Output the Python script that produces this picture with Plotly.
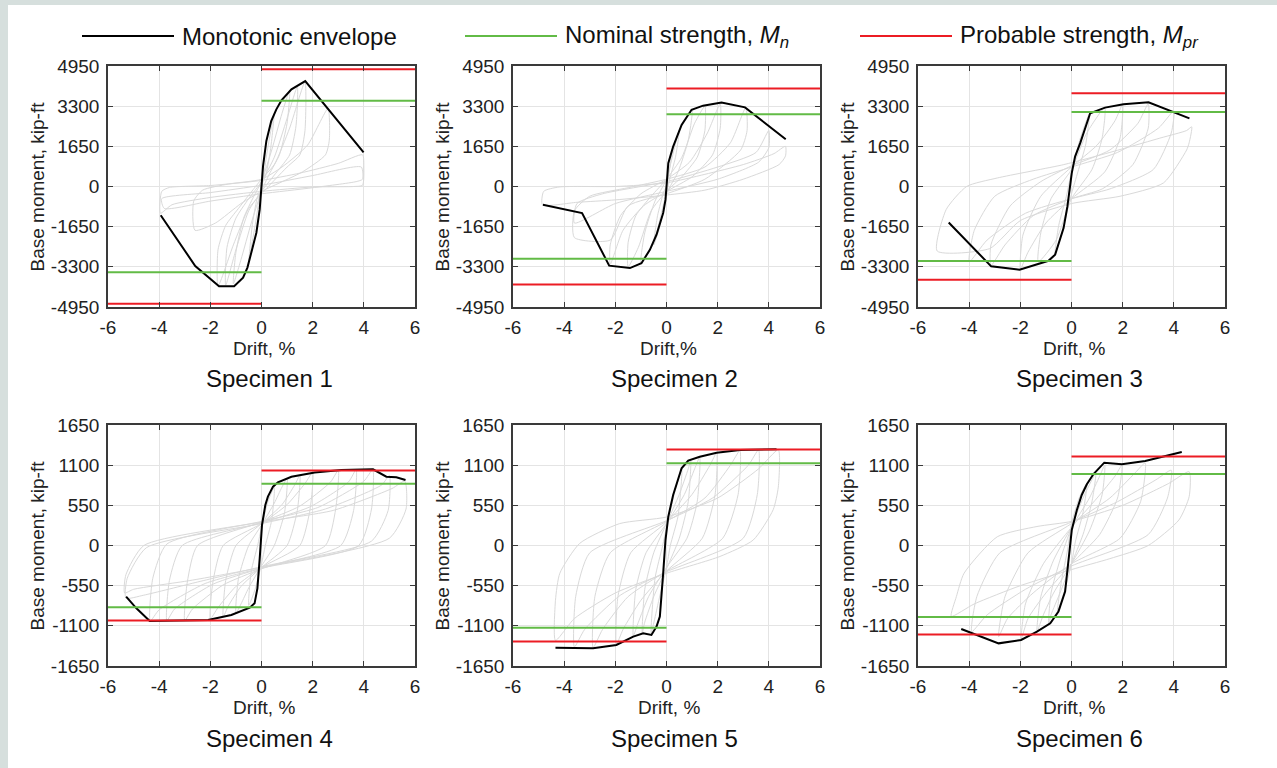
import plotly.graph_objects as go

W, H = 1277, 768

# ---------------- data ----------------
drift_ticks = [-6, -4, -2, 0, 2, 4, 6]
moment_ticks_top = [-4950, -3300, -1650, 0, 1650, 3300, 4950]
moment_ticks_bot = [-1650, -1100, -550, 0, 550, 1100, 1650]

specimen_names = ["Specimen 1", "Specimen 2", "Specimen 3",
                  "Specimen 4", "Specimen 5", "Specimen 6"]
drift_titles = ["Drift, %", "Drift,%", "Drift, %", "Drift, %", "Drift, %", "Drift, %"]
moment_title = "Base moment, kip-ft"
legend_names = ["Monotonic envelope", "Nominal strength, <i>M<sub>n</sub></i>",
                "Probable strength, <i>M<sub>pr</sub></i>"]

# Monotonic envelopes
env1_x = [-3.94, -2.59, -1.66, -1.07, -0.72, -0.55, -0.40, -0.20, -0.07, 0.0, 0.06, 0.19, 0.38, 0.58, 0.78, 1.17, 1.71, 3.99]
env1_y = [-1180, -3265, -4100, -4100, -3745, -3330, -2720, -1900, -940, -120, 840, 1870, 2690, 3170, 3540, 3990, 4330, 1400]
env2_x = [-4.83, -3.30, -2.24, -1.43, -0.98, -0.65, -0.39, -0.13, -0.04, 0.0, 0.07, 0.26, 0.59, 0.98, 1.43, 2.15, 3.07, 4.66]
env2_y = [-750, -1090, -3250, -3350, -3150, -2600, -1980, -1090, -550, 0, 960, 1640, 2530, 3150, 3320, 3450, 3250, 1940]
env3_x = [-4.80, -3.14, -2.03, -0.90, -0.64, -0.31, -0.16, -0.08, 0.01, 0.14, 0.34, 0.73, 1.31, 2.03, 3.01, 4.61]
env3_y = [-1480, -3280, -3420, -3050, -2800, -1710, -820, -140, 550, 1230, 1780, 3010, 3240, 3380, 3460, 2800]
env4_x = [-5.29, -4.89, -4.37, -3.07, -2.09, -1.18, -0.46, -0.27, -0.16, -0.07, 0.02, 0.15, 0.25, 0.45, 0.64, 1.17, 2.08, 3.12, 4.36, 4.88, 5.27, 5.63]
env4_y = [-700, -860, -1034, -1030, -1020, -952, -852, -792, -587, -176, 281, 555, 669, 806, 865, 942, 1001, 1034, 1043, 942, 933, 896]
env5_x = [-4.34, -2.87, -1.96, -1.30, -0.91, -0.59, -0.39, -0.26, -0.13, -0.04, 0.07, 0.26, 0.59, 0.85, 1.30, 1.96, 2.87, 4.30]
env5_y = [-1400, -1408, -1362, -1248, -1203, -1225, -1111, -974, -381, 75, 395, 692, 1057, 1162, 1216, 1271, 1308, 1317]
env6_x = [-4.31, -2.85, -1.97, -1.35, -0.83, -0.51, -0.25, -0.16, -0.08, 0.01, 0.21, 0.40, 0.60, 0.86, 1.28, 1.97, 2.88, 4.31]
env6_y = [-1143, -1340, -1294, -1180, -1066, -906, -632, -381, -84, 212, 486, 692, 838, 979, 1134, 1111, 1157, 1280]

# Nominal and probable strengths
nominal_strength = [3520, 2970, 3060, 845, 1125, 980]
probable_strength = [4820, 4030, 3830, 1027, 1315, 1220]

# Hysteresis loops (approximate)
loops1_x = [
    [0.0, 0.2, 0.4, 0.5, 0.35, 0.15, 0.0, -0.2, -0.4, -0.5, -0.35, -0.15, 0.0],
    [0.0, 0.4, 0.8, 1.1, 1.0, 0.7, 0.3, 0.0, -0.4, -0.8, -1.1, -1.0, -0.7, -0.3, 0.0],
    [0.0, 0.5, 1.0, 1.4, 1.35, 1.1, 0.6, 0.0, -0.5, -1.0, -1.4, -1.35, -1.0, -0.5, 0.0],
    [0.0, 0.5, 1.1, 1.7, 1.7, 1.5, 1.0, 0.0, -0.5, -1.1, -1.7, -1.7, -1.4, -0.9, 0.0],
    [0.0, 0.8, 1.8, 2.6, 2.65, 2.5, 1.6, 0.0, -0.8, -1.8, -2.6, -2.65, -2.3, -1.3, 0.0],
    [-3.95, -3.9, -3.6, -2.0, 0.0, 1.5, 3.0, 3.95, 4.0, 3.95, 3.6, 2.0, 0.0, -2.0, -3.5, -3.95],
    [-3.9, -2.0, 0.0, 2.0, 3.9, 3.95, 3.7, 2.0, 0.0, -2.0, -3.8, -3.9],
]
loops1_y = [
    [-100, 1300, 2500, 3000, 1500, 400, 100, -1300, -2500, -3100, -1500, -400, -100],
    [200, 1500, 3000, 3950, 2600, 1300, 500, -200, -1500, -3000, -4000, -2700, -1300, -400, 200],
    [200, 1200, 2800, 4100, 2500, 1300, 600, -200, -1000, -2600, -4050, -2500, -1300, -500, 200],
    [300, 900, 2400, 4300, 2300, 1300, 800, -300, -900, -2400, -4100, -2600, -1600, -900, 300],
    [300, 800, 1700, 3200, 1900, 1300, 600, -200, -700, -1500, -1800, -600, -150, 100, 300],
    [-1100, -200, -40, 40, 250, 550, 950, 1300, 800, 50, 0, -20, -200, -450, -750, -1100],
    [-500, -250, 50, 450, 800, 300, 200, -50, -300, -600, -900, -500],
]
loops2_x = [
    [0.0, 0.25, 0.5, 0.35, 0.1, 0.0, -0.25, -0.5, -0.35, -0.1, 0.0],
    [0.0, 0.5, 1.0, 0.85, 0.45, 0.0, -0.5, -1.0, -0.85, -0.45, 0.0],
    [0.0, 0.6, 1.1, 1.5, 1.5, 1.2, 0.6, 0.0, -0.6, -1.1, -1.5, -1.5, -1.2, -0.6, 0.0],
    [0.0, 0.9, 1.6, 2.1, 2.1, 1.8, 1.0, 0.0, -0.9, -1.7, -2.2, -2.2, -1.8, -1.0, 0.0],
    [0.0, 1.5, 2.5, 3.1, 3.15, 2.9, 1.5, 0.0, -1.5, -2.2, -3.6, -3.6, -3.0, -1.5, 0.0],
    [-3.6, -3.5, -2.5, 0.0, 2.0, 3.5, 4.0, 4.0, 3.6, 2.0, 0.0, -2.0, -3.6],
    [-4.85, -4.8, -4.2, -2.0, 0.0, 1.5, 3.0, 4.2, 4.65, 4.65, 4.4, 3.0, 1.5, 0.0, -2.0, -3.5, -4.85],
]
loops2_y = [
    [0, 1500, 2300, 1200, 200, -300, -1600, -2400, -1200, -200, 0],
    [300, 2300, 3150, 1900, 600, -300, -2300, -3150, -1900, -600, 300],
    [300, 1200, 2600, 3300, 2300, 1200, 400, -200, -1000, -2500, -3300, -2300, -1200, -400, 300],
    [300, 1000, 2200, 3400, 2400, 1300, 400, -200, -800, -1800, -3200, -2400, -1200, -300, 300],
    [300, 800, 1800, 3250, 2300, 1500, 300, -300, -800, -2200, -2100, -1000, -400, -50, 300],
    [-1500, -700, -300, 200, 800, 1400, 2300, 1600, 1000, 300, -200, -700, -1500],
    [-750, -200, -20, 0, 150, 500, 900, 1350, 1650, 1250, 900, 300, -150, -350, -550, -650, -750],
]
loops3_x = [
    [0.0, 0.35, 0.7, 0.55, 0.25, 0.0, -0.35, -0.65, -0.5, -0.2, 0.0],
    [0.0, 0.6, 1.3, 1.2, 0.8, 0.0, -0.6, -1.3, -1.2, -0.8, 0.0],
    [0.0, 1.0, 1.7, 2.0, 1.9, 1.3, 0.0, -1.0, -1.7, -2.0, -1.9, -1.2, 0.0],
    [0.0, 1.5, 2.6, 3.0, 3.0, 2.4, 1.2, 0.0, -1.5, -2.6, -3.15, -3.15, -2.4, -1.2, 0.0],
    [-4.0, -3.8, -3.0, -1.5, 0.0, 1.8, 3.4, 4.0, 3.9, 3.2, 1.5, 0.0, -1.8, -3.3, -4.0],
    [-5.25, -4.9, -4.1, -2.9, -0.3, 1.5, 3.5, 4.5, 4.7, 4.6, 4.5, 3.6, 1.9, 0.0, -2.0, -3.2, -5.25],
]
loops3_y = [
    [600, 2000, 3000, 1700, 600, -300, -1800, -2800, -1600, -400, 600],
    [700, 2200, 3240, 2000, 700, -500, -2200, -3100, -1900, -500, 700],
    [800, 1700, 2700, 3380, 2000, 600, -500, -1500, -2700, -3400, -2000, -400, 800],
    [850, 1500, 2600, 3400, 2400, 900, -100, -500, -1200, -2400, -3250, -2400, -800, 200, 850],
    [-3100, -1800, -400, 300, 800, 1400, 2400, 3100, 2200, 700, -100, -500, -1100, -2200, -3100],
    [-2650, -950, 0, 350, 900, 1400, 2000, 2300, 2450, 1800, 1500, 150, -400, -700, -1400, -2550, -2650],
]
loops4_x = [
    [0.0, 0.25, 0.5, 0.4, 0.15, 0.0, -0.25, -0.5, -0.4, -0.15, 0.0],
    [-1.0, -0.9, -0.5, 0.0, 0.5, 0.8, 1.0, 0.9, 0.5, 0.0, -0.5, -0.8, -1.0],
    [-1.5, -1.4, -1.0, 0.0, 0.8, 1.3, 1.5, 1.4, 1.0, 0.0, -0.8, -1.3, -1.5],
    [-2.0, -1.9, -1.5, 0.0, 1.0, 1.7, 2.0, 1.9, 1.5, 0.0, -1.0, -1.7, -2.0],
    [-3.0, -2.9, -2.5, 0.0, 1.5, 2.7, 3.0, 2.9, 2.5, 0.0, -1.5, -2.7, -3.0],
    [-3.7, -3.6, -3.1, 0.0, 1.9, 3.4, 3.7, 3.6, 3.1, 0.0, -1.9, -3.4, -3.7],
    [-4.35, -4.25, -3.7, 0.0, 2.2, 4.0, 4.35, 4.3, 3.8, 0.0, -2.2, -4.0, -4.35],
    [-5.3, -5.25, -4.5, 0.0, 2.5, 4.7, 5.0, 4.95, 4.3, 0.0, -2.5, -4.6, -5.3],
    [-5.35, -5.3, -4.6, 0.0, 2.8, 5.1, 5.6, 5.65, 5.0, 0.0, -2.8, -5.0, -5.35],
]
loops4_y = [
    [250, 600, 800, 350, 0, -250, -600, -820, -350, 0, 250],
    [-930, -450, 0, 280, 580, 800, 920, 450, 0, -280, -580, -800, -930],
    [-980, -480, 0, 300, 560, 830, 960, 480, 0, -300, -560, -830, -980],
    [-1005, -500, 0, 300, 560, 850, 1000, 500, 0, -300, -560, -850, -1005],
    [-1030, -500, 0, 320, 540, 870, 1030, 500, 0, -320, -540, -870, -1030],
    [-1030, -480, 0, 310, 530, 870, 1040, 480, 0, -310, -530, -870, -1030],
    [-1034, -450, 20, 330, 520, 880, 1040, 500, 0, -310, -520, -880, -1034],
    [-720, -450, -30, 300, 500, 830, 960, 480, 60, -290, -500, -680, -720],
    [-650, -400, 0, 320, 480, 780, 880, 500, 100, -300, -480, -600, -650],
]
loops5_x = [
    [0.0, 0.3, 0.6, 0.45, 0.15, 0.0, -0.3, -0.6, -0.45, -0.15, 0.0],
    [-0.95, -0.85, -0.5, 0.0, 0.5, 0.85, 0.95, 0.85, 0.5, 0.0, -0.5, -0.85, -0.95],
    [-1.3, -1.2, -0.8, 0.0, 0.7, 1.1, 1.3, 1.2, 0.8, 0.0, -0.7, -1.1, -1.3],
    [-1.96, -1.9, -1.4, 0.0, 1.0, 1.7, 1.96, 1.9, 1.4, 0.0, -1.0, -1.7, -1.96],
    [-2.87, -2.8, -2.2, 0.0, 1.5, 2.5, 2.87, 2.8, 2.2, 0.0, -1.5, -2.5, -2.87],
    [-3.6, -3.55, -3.0, 0.0, 1.8, 3.2, 3.6, 3.55, 3.0, 0.0, -1.8, -3.2, -3.6],
    [-4.34, -4.34, -4.17, -3.39, -1.83, 0.0, 2.0, 3.6, 4.37, 4.37, 4.17, 3.39, 2.09, 0.0, -2.0, -3.6, -4.34],
]
loops5_y = [
    [250, 700, 1050, 400, 0, -300, -750, -1200, -450, 0, 250],
    [-1200, -600, -100, 300, 700, 1050, 1170, 600, 100, -320, -700, -1050, -1200],
    [-1240, -600, -100, 300, 700, 1050, 1210, 600, 100, -300, -700, -1050, -1240],
    [-1360, -700, -100, 320, 700, 1100, 1270, 700, 100, -350, -750, -1150, -1360],
    [-1400, -700, -100, 330, 650, 1100, 1300, 700, 100, -350, -700, -1150, -1400],
    [-1390, -700, -100, 340, 650, 1100, 1310, 700, 100, -360, -680, -1150, -1390],
    [-1300, -750, -380, 30, 300, 390, 650, 1050, 1310, 800, 490, 75, -150, -380, -650, -1000, -1300],
]
loops6_x = [
    [0.0, 0.3, 0.6, 0.45, 0.15, 0.0, -0.3, -0.55, -0.4, -0.15, 0.0],
    [-0.9, -0.8, -0.45, 0.0, 0.45, 0.8, 0.95, 0.8, 0.45, 0.0, -0.45, -0.8, -0.9],
    [-1.35, -1.2, -0.7, 0.0, 0.7, 1.1, 1.3, 1.2, 0.7, 0.0, -0.7, -1.1, -1.35],
    [-1.97, -1.8, -1.1, 0.0, 1.0, 1.7, 1.97, 1.8, 1.1, 0.0, -1.0, -1.7, -1.97],
    [-2.85, -2.6, -1.7, 0.0, 1.5, 2.5, 2.88, 2.7, 1.9, 0.0, -1.5, -2.5, -2.85],
    [-3.9, -3.7, -2.8, 0.0, 1.8, 3.3, 3.9, 3.75, 3.0, 0.0, -1.8, -3.3, -3.9],
    [-4.7, -4.5, -4.2, -2.9, -1.35, 0.0, 2.0, 3.8, 4.6, 4.6, 4.2, 3.0, 1.5, 0.0, -2.0, -3.8, -4.7],
]
loops6_y = [
    [300, 650, 850, 450, 50, -250, -650, -900, -500, -50, 300],
    [-1080, -650, -200, 250, 650, 900, 990, 600, 150, -250, -650, -950, -1080],
    [-1180, -700, -200, 250, 650, 950, 1100, 700, 200, -250, -650, -950, -1180],
    [-1290, -800, -250, 250, 650, 950, 1100, 650, 150, -250, -650, -1000, -1290],
    [-1250, -700, -100, 300, 650, 1000, 1130, 600, 100, -250, -650, -1000, -1250],
    [-1180, -700, -100, 320, 600, 900, 1030, 650, 150, -280, -600, -950, -1180],
    [-970, -700, -380, 120, 260, 330, 550, 850, 1010, 670, 350, 0, -180, -330, -550, -800, -970],
]

envelopes = [(env1_x, env1_y), (env2_x, env2_y), (env3_x, env3_y),
             (env4_x, env4_y), (env5_x, env5_y), (env6_x, env6_y)]
loops = [(loops1_x, loops1_y), (loops2_x, loops2_y), (loops3_x, loops3_y),
         (loops4_x, loops4_y), (loops5_x, loops5_y), (loops6_x, loops6_y)]
moment_ticks = [moment_ticks_top] * 3 + [moment_ticks_bot] * 3

# ---------------- style / layout ----------------
FONT = "Arial, 'Liberation Sans', Helvetica, sans-serif"
TXT = "#222222"
GRAY_LOOP = "#d9d9d9"
BLACK = "#000000"
GREEN = "#62bb46"
RED = "#ec1c24"
FRAME = "#3a3a3a"

col_px = [(108, 415), (513, 820), (918, 1225)]
row_px = [(66, 307), (425, 666)]


def px_x(p):
    return p / W


def px_y(p):
    return 1 - p / H


fig = go.Figure()

for i in range(6):
    r, c = divmod(i, 3)
    ax = "" if i == 0 else str(i + 1)
    xr, yr = "x" + ax, "y" + ax
    lx, ly = loops[i]
    gx, gy = [], []
    for xs, ys in zip(lx, ly):
        gx += xs + [None]
        gy += ys + [None]
    fig.add_trace(go.Scatter(x=gx, y=gy, mode="lines", xaxis=xr, yaxis=yr,
                             line=dict(color=GRAY_LOOP, width=1, shape="spline", smoothing=0.6),
                             showlegend=False, hoverinfo="skip"))
    ex, ey = envelopes[i]
    fig.add_trace(go.Scatter(x=ex, y=ey, mode="lines", xaxis=xr, yaxis=yr,
                             line=dict(color=BLACK, width=2),
                             name="Monotonic envelope", showlegend=False))
    xlo, xhi = drift_ticks[0], drift_ticks[-1]
    mn, mp = nominal_strength[i], probable_strength[i]
    fig.add_trace(go.Scatter(x=[0, xhi, None, xlo, 0], y=[mn, mn, None, -mn, -mn],
                             mode="lines", xaxis=xr, yaxis=yr,
                             line=dict(color=GREEN, width=2), showlegend=False))
    fig.add_trace(go.Scatter(x=[0, xhi, None, xlo, 0], y=[mp, mp, None, -mp, -mp],
                             mode="lines", xaxis=xr, yaxis=yr,
                             line=dict(color=RED, width=2), showlegend=False))

    x0p, x1p = col_px[c]
    y0p, y1p = row_px[r]
    mt = moment_ticks[i]
    axis_common = dict(showgrid=True, gridcolor="#e4e4e4", gridwidth=1, zeroline=False,
                       showline=True, linecolor=FRAME, linewidth=1.5, mirror="ticks",
                       ticks="inside", ticklen=5, tickcolor=FRAME, tickwidth=1,
                       tickfont=dict(family=FONT, size=19, color=TXT), automargin=False)
    fig.update_layout(**{
        "xaxis" + ax: dict(domain=[px_x(x0p), px_x(x1p)], anchor=yr,
                           range=[drift_ticks[0], drift_ticks[-1]], tickvals=drift_ticks,
                           ticktext=[str(v) for v in drift_ticks],
                           ticklabelstandoff=2, **axis_common),
        "yaxis" + ax: dict(domain=[px_y(y1p), px_y(y0p)], anchor=xr,
                           range=[mt[0], mt[-1]], tickvals=mt,
                           ticktext=[str(v) for v in mt],
                           ticklabelstandoff=3, **axis_common),
    })
    cx = (x0p + x1p) / 2
    cy = (y0p + y1p) / 2
    fig.add_annotation(xref="paper", yref="paper", x=px_x(x0p - 71), y=px_y(cy),
                       text=moment_title, textangle=-90, showarrow=False,
                       xanchor="center", yanchor="middle",
                       font=dict(family=FONT, size=19, color=TXT))
    fig.add_annotation(xref="paper", yref="paper", x=px_x(cx + 2), y=px_y(y1p + 41),
                       text=drift_titles[i], showarrow=False,
                       xanchor="center", yanchor="middle",
                       font=dict(family=FONT, size=19, color=TXT))
    fig.add_annotation(xref="paper", yref="paper", x=px_x(cx + 8), y=px_y(y1p + 72),
                       text=specimen_names[i], showarrow=False,
                       xanchor="center", yanchor="middle",
                       font=dict(family=FONT, size=24, color="#111111"))

# Legend (drawn manually)
leg_y = 36
leg_items = [(82, 174, BLACK), (465, 557, GREEN), (860, 952, RED)]
shapes = [
    dict(type="rect", xref="paper", yref="paper", x0=0, x1=px_x(8), y0=0, y1=1,
         fillcolor="#d6dfdd", line=dict(width=0), layer="below"),
    dict(type="rect", xref="paper", yref="paper", x0=0, x1=1, y0=px_y(5), y1=1,
         fillcolor="#d6dfdd", line=dict(width=0), layer="below"),
]
for (a, b, colr), name in zip(leg_items, legend_names):
    shapes.append(dict(type="line", xref="paper", yref="paper",
                       x0=px_x(a), x1=px_x(b), y0=px_y(leg_y), y1=px_y(leg_y),
                       line=dict(color=colr, width=2)))
    fig.add_annotation(xref="paper", yref="paper", x=px_x(b + 6), y=px_y(leg_y),
                       text=name, showarrow=False, xanchor="left", yanchor="middle",
                       font=dict(family=FONT, size=24, color="#111111"))

fig.update_layout(width=W, height=H, margin=dict(l=0, r=0, t=0, b=0, pad=0),
                  paper_bgcolor="white", plot_bgcolor="white", shapes=shapes,
                  showlegend=False, font=dict(family=FONT, color=TXT))

fig.write_html("out.html", config={"displayModeBar": False},
               post_script="document.body.style.margin='0';document.body.style.overflow='hidden';")
